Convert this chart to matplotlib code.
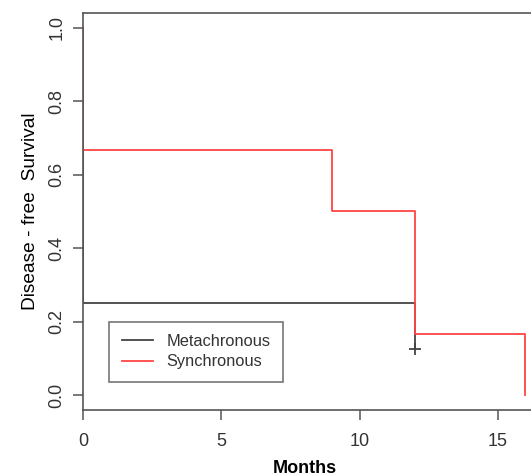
import matplotlib
matplotlib.use('Agg')
import matplotlib.pyplot as plt

plt.rcParams['font.family'] = ['Liberation Sans', 'DejaVu Sans']

# Kaplan-Meier estimates (time in months, survival after each event)
meta_times = [0, 12]
meta_surv = [0.25, 0.125]
meta_censor_t = [12]
meta_censor_s = [0.125]

sync_times = [0, 9, 12, 16]
sync_surv = [0.6667, 0.5, 0.1667, 0.0]

group_names = ['Metachronous', 'Synchronous']
xticks = [0, 5, 10, 15]
yticks = [0.0, 0.2, 0.4, 0.6, 0.8, 1.0]

META_COLOR = '#444444'
SYNC_COLOR = '#ff4444'
AXIS_COLOR = '#555555'
TEXT_COLOR = '#333333'

W, H = 531, 473
fig = plt.figure(figsize=(W / 100, H / 100), dpi=100)

# plot region in pixels (right side of the box is cropped away)
px_per_month = 27.63
left_px, bottom_px, top_px = 83.3, 409.7, 12.8
xmax = 16.64
ax = fig.add_axes([left_px / W, (H - bottom_px) / H,
                   xmax * px_per_month / W, (bottom_px - top_px) / H])

ax.step([0] + meta_times, [1.0] + meta_surv, where='post',
        color=META_COLOR, lw=1.3, label=group_names[0])
ax.plot(meta_censor_t, meta_censor_s, '+', color=META_COLOR,
        ms=9, mew=1.3)
ax.step([0] + sync_times, [1.0] + sync_surv, where='post',
        color=SYNC_COLOR, lw=1.3, label=group_names[1])

ax.set_xlim(0, xmax)
ax.set_ylim(-0.04, 1.04)
ax.set_xticks(xticks)
ax.set_yticks(yticks)
ax.set_xticklabels([str(t) for t in xticks])
ax.set_yticklabels(['%.1f' % t for t in yticks], rotation=90, va='center')

for sp in ax.spines.values():
    sp.set_color(AXIS_COLOR)
    sp.set_linewidth(1.2)
ax.tick_params(direction='out', length=7, width=1.1, color=AXIS_COLOR,
               labelsize=13, labelcolor=TEXT_COLOR)
ax.tick_params(axis='x', pad=10)
ax.tick_params(axis='y', pad=6)

ax.set_ylabel('Disease - free  Survival', fontsize=13.8, color='black',
              labelpad=7)
fig.text(305 / W, (H - 460) / H, 'Months', fontsize=13, fontweight='bold',
         ha='center', va='top')

leg = ax.legend(loc='upper left',
                bbox_to_anchor=(109.3 / W, (H - 321.7) / H),
                bbox_transform=fig.transFigure, borderaxespad=0,
                fontsize=11.8, fancybox=False, frameon=True,
                handlelength=1.9, handletextpad=0.85, borderpad=0.75,
                labelspacing=0.32)
leg.get_frame().set_edgecolor(AXIS_COLOR)
leg.get_frame().set_linewidth(1.2)
for t in leg.get_texts():
    t.set_color(TEXT_COLOR)

fig.savefig('out.png', dpi=100)
